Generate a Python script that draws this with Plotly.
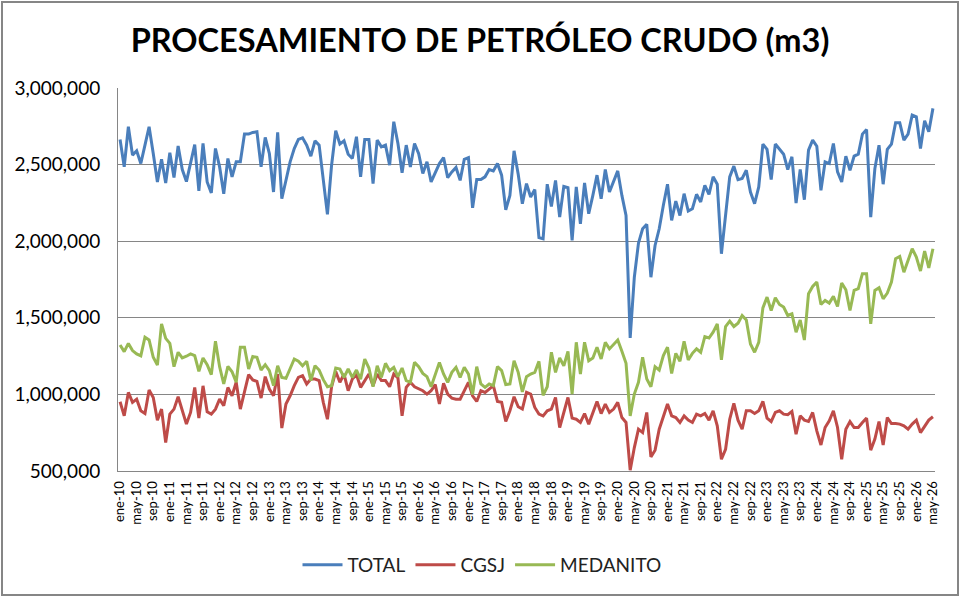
import plotly.graph_objects as go

# monthly series, thousands of m3, ene-10 .. may-26
months_es = ["ene", "feb", "mar", "abr", "may", "jun",
             "jul", "ago", "sep", "oct", "nov", "dic"]
periodos = [f"{m}-{y % 100:02d}" for y in range(2010, 2027) for m in months_es][:197]

total = [
    2664, 2485, 2747, 2562, 2590, 2507, 2627, 2747, 2572, 2387, 2535, 2380,
    2577, 2415, 2622, 2468, 2389, 2518, 2631, 2328, 2638, 2387, 2315, 2605,
    2485, 2310, 2540, 2420, 2518, 2518, 2699, 2699, 2710, 2714, 2485, 2677,
    2572, 2321, 2710, 2277, 2397, 2518, 2605, 2664, 2675, 2627, 2555, 2655,
    2627, 2397, 2175, 2496, 2721, 2634, 2655, 2568, 2540, 2682, 2420, 2664,
    2664, 2376, 2660, 2616, 2627, 2496, 2780, 2638, 2446, 2627, 2485, 2638,
    2572, 2442, 2518, 2387, 2442, 2507, 2546, 2415, 2452, 2481, 2397, 2535,
    2546, 2218, 2402, 2402, 2420, 2468, 2459, 2507, 2431, 2205, 2299, 2590,
    2437, 2245, 2376, 2289, 2337, 2023, 2016, 2372, 2227, 2397, 2157, 2358,
    2350, 2005, 2354, 2114, 2381, 2179, 2299, 2431, 2277, 2468, 2321, 2387,
    2459, 2299, 2168, 1368, 1765, 1987, 2081, 2110, 1765, 1972, 2081, 2234,
    2372, 2136, 2262, 2168, 2310, 2197, 2212, 2306, 2256, 2365, 2306, 2420,
    2372, 1918, 2179, 2420, 2490, 2402, 2409, 2463, 2321, 2245, 2354, 2634,
    2599, 2402, 2634, 2599, 2568, 2468, 2551, 2249, 2468, 2271, 2595, 2660,
    2620, 2332, 2518, 2507, 2638, 2452, 2387, 2555, 2463, 2555, 2568, 2699,
    2729, 2157, 2474, 2627, 2372, 2599, 2634, 2773, 2773, 2660, 2699, 2823,
    2812, 2605, 2786, 2714, 2867,
]

cgsj = [
    952, 860, 1013, 948, 969, 893, 875, 1028, 980, 832, 904, 686,
    871, 904, 985, 893, 806, 882, 1045, 845, 1056, 886, 871, 904,
    969, 926, 1045, 991, 1079, 904, 1024, 1129, 1094, 1085, 976, 1116,
    1035, 991, 1133, 780, 937, 991, 1057, 1111, 1122, 1068, 1100, 1100,
    1090, 948, 838, 1050, 1150, 1079, 1133, 1024, 1100, 1129, 1046, 1090,
    1133, 1057, 1133, 1090, 1090, 1050, 1133, 1107, 860, 1046, 1079, 1050,
    1035, 1024, 1002, 1024, 1064, 937, 1072, 1002, 976, 969, 969, 1024,
    1079, 991, 954, 1024, 1013, 1035, 1057, 954, 948, 823, 893, 985,
    919, 904, 1013, 1002, 915, 871, 860, 893, 904, 980, 784, 882,
    980, 845, 838, 817, 875, 806, 882, 954, 875, 937, 882, 904,
    948, 849, 817, 505, 653, 773, 751, 882, 592, 636, 773, 860,
    937, 860, 849, 817, 860, 832, 817, 871, 860, 875, 832, 893,
    795, 577, 642, 838, 941, 832, 773, 893, 893, 875, 893, 954,
    845, 823, 882, 893, 871, 867, 889, 740, 860, 832, 823, 882,
    762, 670, 784, 827, 893, 784, 577, 773, 823, 784, 784, 817,
    845, 636, 708, 823, 670, 849, 810, 810, 806, 795, 773, 806,
    832, 751, 795, 832, 854,
]

medanito = [
    1323, 1279, 1333, 1286, 1264, 1251, 1373, 1355, 1242, 1192, 1460, 1366,
    1333, 1181, 1275, 1238, 1249, 1264, 1253, 1150, 1238, 1194, 1129, 1347,
    1181, 1068, 1183, 1148, 1079, 1308, 1308, 1166, 1247, 1242, 1159, 1194,
    1155, 1057, 1187, 1111, 1105, 1172, 1231, 1216, 1187, 1216, 1090, 1187,
    1159, 1096, 1050, 1057, 1172, 1166, 1111, 1166, 1111, 1159, 1100, 1231,
    1172, 1050, 1187, 1111, 1203, 1155, 1177, 1116, 1172, 1090, 1079, 1209,
    1181, 1137, 1116, 1050, 1133, 1209, 1133, 1079, 1144, 1177, 1111, 1177,
    1133, 1000, 1181, 1068, 1046, 1068, 1057, 1181, 1155, 1064, 1068, 1220,
    1144, 1016, 1116, 1133, 1144, 1216, 994, 1050, 1275, 1144, 1238, 1187,
    1281, 1002, 1340, 1133, 1340, 1220, 1238, 1308, 1231, 1340, 1297, 1329,
    1355, 1281, 1203, 860, 1002, 1079, 1242, 1100, 1050, 1181, 1159, 1253,
    1308, 1137, 1268, 1216, 1347, 1225, 1268, 1297, 1275, 1377, 1368, 1406,
    1460, 1225, 1443, 1478, 1443, 1465, 1515, 1486, 1329, 1275, 1340, 1565,
    1635, 1548, 1631, 1587, 1570, 1515, 1526, 1406, 1486, 1355, 1657, 1705,
    1733, 1587, 1613, 1596, 1640, 1574, 1727, 1683, 1548, 1679, 1690, 1788,
    1788, 1460, 1679, 1696, 1624, 1661, 1733, 1886, 1901, 1798, 1875, 1951,
    1897, 1805, 1936, 1826, 1951,
]

series = [
    ("TOTAL", total, "#4a7ebb"),
    ("CGSJ", cgsj, "#be4b48"),
    ("MEDANITO", medanito, "#98b954"),
]

x = list(range(len(periodos)))
tick_idx = x[::4]

fig = go.Figure()
for name, vals, color in series:
    fig.add_trace(go.Scatter(
        x=x, y=[v * 1000 for v in vals], name=name, mode="lines",
        line=dict(color=color, width=3),
    ))

# chart-area border, in paper units of the plot box
L, R, T, B = 118, 25, 88, 126
pw, ph = 960 - L - R, 597 - T - B
fig.add_shape(
    type="rect", xref="paper", yref="paper",
    x0=(2 - L) / pw, x1=(958 - L) / pw,
    y0=(597 - B - 595) / ph, y1=(597 - B - 2) / ph,
    line=dict(color="#868686", width=2), layer="below",
)

fig.update_layout(
    width=960, height=597,
    margin=dict(l=L, r=R, t=T, b=B),
    paper_bgcolor="white", plot_bgcolor="white",
    font=dict(family="Lato", color="black"),
    title=dict(
        text="<b>PROCESAMIENTO DE PETRÓLEO CRUDO (m3)</b>",
        x=0.5, xanchor="center", y=1 - 41 / 597, yanchor="middle",
        font=dict(size=32.5, family="Lato", color="black"),
    ),
    showlegend=True,
    legend=dict(
        orientation="h", x=(482 - L) / pw, xanchor="center",
        y=(597 - B - 565) / ph, yanchor="middle",
        font=dict(size=19, color="#222"),
        itemwidth=40,
    ),
    xaxis=dict(
        range=[-0.5, len(x) - 0.5],
        tickvals=tick_idx,
        ticktext=[periodos[i] for i in tick_idx],
        tickangle=-90,
        tickfont=dict(size=13),
        showgrid=False, zeroline=False,
        showline=True, linecolor="#868686", linewidth=1,
        ticks="", ticklabelstandoff=4,
    ),
    yaxis=dict(
        range=[500000, 3000000],
        dtick=500000,
        tickformat=",",
        tickfont=dict(size=19),
        showgrid=True, gridcolor="#868686", gridwidth=1,
        zeroline=False,
        showline=True, linecolor="#868686", linewidth=1,
        ticks="", ticklabelstandoff=13,
    ),
)

# drop the browser's default body margin so the figure sits at 0,0
fig.write_html(
    "out.html",
    config={"displayModeBar": False},
    post_script="document.body.style.margin='0';",
)
